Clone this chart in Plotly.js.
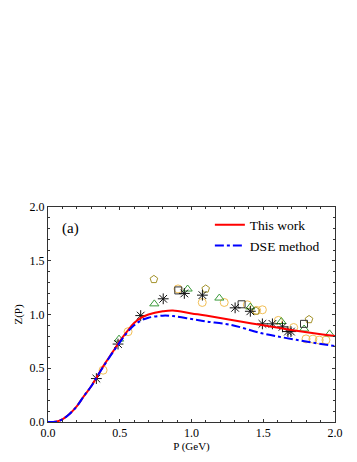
<!DOCTYPE html>
<html>
<head>
<meta charset="utf-8">
<script src="https://cdn.plot.ly/plotly-3.0.1.min.js"></script>
<style>
  body { margin: 0; background: #fff; }
  #plot { width: 357px; height: 462px; }
</style>
</head>
<body>
<div id="plot"></div>
<script>
// curves
let curveP    = [0, 0.05, 0.1, 0.15, 0.2, 0.25, 0.3, 0.35, 0.4, 0.45, 0.5, 0.55, 0.6, 0.65, 0.7, 0.8, 0.87, 1.0, 1.1, 1.27, 1.5, 1.73, 2.0];
let thisWork  = [0, 0.002, 0.025, 0.075, 0.145, 0.24, 0.33, 0.44, 0.55, 0.65, 0.75, 0.84, 0.92, 0.97, 1.0, 1.03, 1.038, 1.01, 0.99, 0.951, 0.899, 0.849, 0.80];
let dseMethod = [0, 0.002, 0.025, 0.075, 0.145, 0.24, 0.33, 0.44, 0.545, 0.645, 0.74, 0.83, 0.90, 0.945, 0.97, 0.989, 0.985, 0.958, 0.935, 0.905, 0.822, 0.765, 0.705];

// lattice data points
let starP = [0.337, 0.488, 0.646, 0.803, 0.95, 1.076, 1.304, 1.41, 1.494, 1.564, 1.634, 1.672, 1.693];
let starZ = [0.404, 0.725, 0.99, 1.146, 1.196, 1.18, 1.062, 1.03, 0.913, 0.913, 0.885, 0.841, 0.841];

let squareP = [0.908, 1.349, 1.784];
let squareZ = [1.224, 1.095, 0.913];

let triP = [0.495, 0.741, 0.973, 1.194, 1.41, 1.626, 1.785, 1.962];
let triZ = [0.771, 1.099, 1.237, 1.153, 1.07, 0.935, 0.865, 0.82];

let pentP = [0.738, 1.099, 1.449, 1.819];
let pentZ = [1.327, 1.238, 1.033, 0.954];

let circP = [0.384, 0.558, 0.906, 1.075, 1.228, 1.389, 1.454, 1.494, 1.605, 1.712, 1.798, 1.846, 1.89, 1.937];
let circZ = [0.482, 0.84, 1.238, 1.112, 1.112, 1.09, 1.038, 1.044, 0.945, 0.879, 0.773, 0.771, 0.762, 0.762];

function markerTrace(x, y, symbol, color, size) {
    return {
        x: x, y: y, mode: 'markers', type: 'scatter', showlegend: false,
        marker: { symbol: symbol, size: size, color: color, line: { color: color, width: 1 } }
    };
}

let traces = [
    markerTrace(circP, circZ, 'circle-open', '#f2bf55', 8),
    markerTrace(pentP, pentZ, 'pentagon-open', '#a3922a', 8),
    markerTrace(triP, triZ, 'triangle-up-open', '#3a9a3a', 8),
    markerTrace(squareP, squareZ, 'square-open', '#333333', 7),
    markerTrace(starP, starZ, 'asterisk-open', '#111111', 9),
    {
        x: curveP, y: thisWork, mode: 'lines', type: 'scatter', name: 'This work',
        line: { color: '#ff0000', width: 2, shape: 'spline' }
    },
    {
        x: curveP, y: dseMethod, mode: 'lines', type: 'scatter', name: 'DSE method',
        line: { color: '#0000ff', width: 2, dash: 'dashdot', shape: 'spline' }
    }
];

let axisStyle = {
    showgrid: false, zeroline: false, showline: true, mirror: 'ticks',
    linecolor: '#333', linewidth: 1, ticks: 'inside', ticklen: 3, tickcolor: '#333',
    tickfont: { family: 'Liberation Serif', size: 12, color: '#000' },
    minor: { ticks: 'inside', ticklen: 2, dtick: 0.1, tickcolor: '#333' }
};

let layout = {
    width: 357, height: 462,
    margin: { l: 48, r: 22, t: 207, b: 40 },
    paper_bgcolor: '#fff', plot_bgcolor: '#fff',
    font: { family: 'Liberation Serif', color: '#000' },
    xaxis: Object.assign({}, axisStyle, {
        range: [0, 2], dtick: 0.5, tickformat: '.1f',
        title: { text: 'P (GeV)', font: { size: 11 }, standoff: 1 }
    }),
    yaxis: Object.assign({}, axisStyle, {
        range: [0, 2], dtick: 0.5, tickformat: '.1f',
        title: { text: 'Z(P)', font: { size: 11 }, standoff: 4 }
    }),
    legend: {
        x: 0.564, y: 0.988, xanchor: 'left', yanchor: 'top',
        bgcolor: 'rgba(0,0,0,0)', font: { size: 13.5 }, tracegroupgap: 0
    },
    annotations: [{
        text: '(a)', xref: 'paper', yref: 'paper', x: 0.042, y: 0.902,
        xanchor: 'left', yanchor: 'middle', showarrow: false, font: { size: 15 }
    }]
};

Plotly.newPlot('plot', traces, layout, { displayModeBar: false, staticPlot: true });
</script>
</body>
</html>
